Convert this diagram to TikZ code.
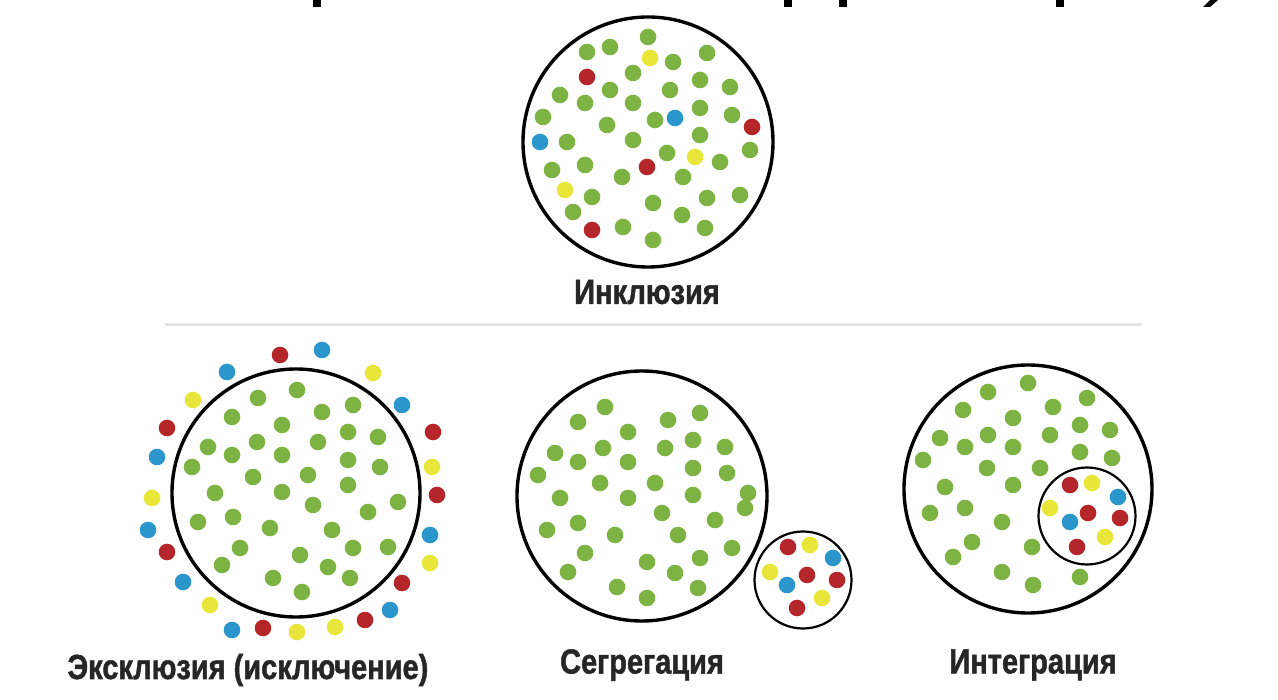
\documentclass[tikz,border=0pt]{standalone}
\usepackage{fontspec}
\setmainfont{Liberation Sans}
\newfontfamily\heavyfont{Liberation Sans Bold}[FakeBold=1.5]
\definecolor{dgreen}{HTML}{7DB343}
\definecolor{dred}{HTML}{B5262B}
\definecolor{dblue}{HTML}{2B96CB}
\definecolor{dyellow}{HTML}{E9E63A}
\tikzset{
  big/.style={circle, draw=black, line width=3.4pt, inner sep=0pt, minimum size=#1},
  small/.style={circle, draw=black, line width=2.2pt, inner sep=0pt, minimum size=#1},
  lbl/.style={font=\heavyfont\fontsize{29}{31}\selectfont, inner sep=0pt, text=black!85},
}
\newcommand{\dotset}[2]{\foreach \p in {#2} \fill[#1] \p circle[radius=8.3pt];}
\newcommand{\tall}[1]{\scalebox{1}[1.2]{#1}}
\begin{document}
\begin{tikzpicture}[x=1pt,y=-1pt]
\fill[white] (0,0) rectangle (1278,700);
\useasboundingbox (0,0) rectangle (1278,700);
% fragments of cut-off title
\fill[black] (313,0) rectangle (321,7);
\fill[black] (784,0) rectangle (792,7);
\fill[black] (839,0) rectangle (847,7);
\fill[black] (1056,0) rectangle (1064,7);
\fill[black] (1210,0) -- (1218,0) -- (1210,7) -- (1203,7) -- cycle;
% separator
\draw[black!10, line width=3pt] (165,325) -- (1142,325);

% ---------- Inclusion ----------
\node[big=250pt] (inc) at (648,142) {};
\dotset{dgreen}{(648,37),(610,47),(587,52),(673,62),(707,53),(633,73),(700,80),(730,87),(560,95),(610,90),(670,90),(585,103),(633,103),(700,108),(543,117),(607,125),(655,120),(732,115),(567,142),(633,140),(700,135),(750,150),(667,153),(720,162),(552,170),(585,165),(622,177),(683,177),(592,197),(740,195),(653,203),(707,198),(573,212),(682,215),(623,227),(705,228),(653,240)}
\dotset{dred}{(587,77),(752,127),(647,167),(592,230)}
\dotset{dblue}{(675,118),(540,142)}
\dotset{dyellow}{(650,58),(695,157),(565,190)}
\node[lbl] (tinc) at (647,292) {\tall{Инклюзия}};

% ---------- Exclusion ----------
\node[big=248pt] (exc) at (296,493) {};
\dotset{dgreen}{(297,390),(258,398),(353,405),(322,412),(232,417),(282,425),(348,432),(378,437),(208,447),(257,442),(318,442),(232,455),(282,455),(348,460),(380,467),(192,467),(253,477),(308,475),(348,485),(215,493),(282,492),(398,502),(313,505),(368,512),(233,517),(198,522),(270,528),(332,530),(240,548),(388,547),(353,548),(300,555),(222,565),(328,567),(273,578),(350,578),(302,592)}
\dotset{dred}{(280,355),(167,428),(433,432),(437,495),(167,552),(402,583),(365,620),(263,628)}
\dotset{dblue}{(322,350),(227,372),(402,405),(157,457),(148,530),(430,535),(183,582),(390,610),(232,630)}
\dotset{dyellow}{(373,373),(193,400),(432,467),(152,498),(430,563),(210,605),(335,627),(297,632)}
\node[lbl] (texc) at (248,670) {\tall{Эксклюзия (исключение)}};

% ---------- Segregation ----------
\node[big=250pt] (seg) at (642,496) {};
\node[small=97pt] (segs) at (803,580) {};
\dotset{dgreen}{(605,407),(700,413),(578,422),(668,420),(628,432),(693,440),(555,453),(603,448),(665,448),(725,447),(578,462),(628,462),(693,468),(538,475),(727,473),(600,483),(655,483),(748,493),(560,498),(628,498),(693,495),(745,508),(662,513),(578,523),(715,520),(547,530),(615,535),(678,535),(732,548),(585,553),(647,562),(700,558),(568,572),(675,573),(617,587),(698,588),(647,598)}
\dotset{dred}{(788,547),(807,575),(837,580),(797,608)}
\dotset{dblue}{(833,558),(787,585)}
\dotset{dyellow}{(810,545),(770,572),(822,598)}
\node[lbl] (tseg) at (642,665) {\tall{Сегрегация}};

% ---------- Integration ----------
\node[big=248pt] (int) at (1028,489) {};
\node[small=97pt] (ints) at (1087,516) {};
\dotset{dgreen}{(1028,383),(988,392),(1087,398),(1053,407),(963,410),(1013,418),(1080,425),(1110,430),(940,438),(988,435),(1050,435),(965,447),(1013,447),(1080,452),(1112,458),(923,460),(987,468),(1040,468),(945,487),(1013,485),(965,508),(930,513),(1002,522),(972,542),(1032,547),(953,557),(1002,572),(1080,577),(1033,585)}
\dotset{dred}{(1070,485),(1088,513),(1120,518),(1077,547)}
\dotset{dblue}{(1118,497),(1070,522)}
\dotset{dyellow}{(1092,483),(1050,508),(1105,537)}
\node[lbl] (tint) at (1033,665) {\tall{Интеграция}};
\end{tikzpicture}
\end{document}
